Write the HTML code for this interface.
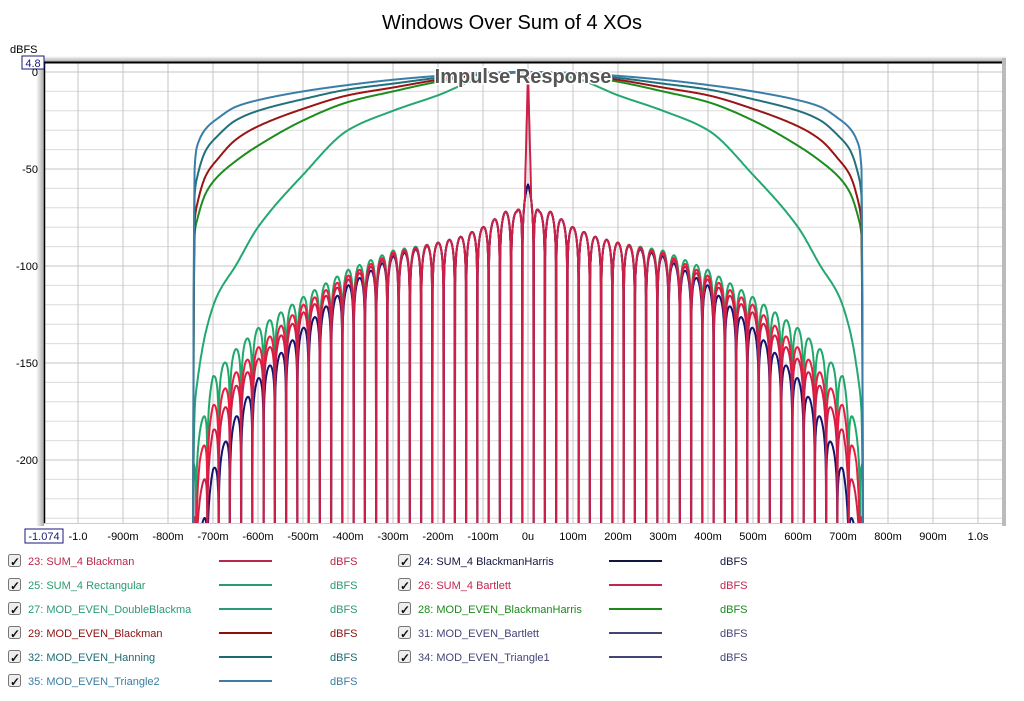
<!DOCTYPE html>
<html><head><meta charset="utf-8">
<style>
body{margin:0;background:#fff;width:1024px;height:696px;overflow:hidden;font-family:"Liberation Sans",Arial,sans-serif;}
svg text{font-family:"Liberation Sans",Arial,sans-serif;}
</style></head>
<body>
<svg id="chart" width="1024" height="696" xmlns="http://www.w3.org/2000/svg">
<defs>
<linearGradient id="shL" x1="0" x2="1"><stop offset="0" stop-color="#fff"/><stop offset="1" stop-color="#aaa"/></linearGradient>
<linearGradient id="shT" x1="0" x2="0" y1="0" y2="1"><stop offset="0" stop-color="#fff"/><stop offset="1" stop-color="#aaa"/></linearGradient>
<clipPath id="plotClip"><rect x="44" y="63" width="958" height="460"/></clipPath>
</defs>
<text x="512" y="29" text-anchor="middle" font-size="20" fill="#000">Windows Over Sum of 4 XOs</text>
<text x="10" y="53" font-size="11" fill="#000">dBFS</text>
<rect x="36" y="56" width="8" height="470" fill="url(#shL)"/>
<rect x="40" y="56" width="966" height="6" fill="url(#shT)"/>
<rect x="1002" y="58" width="4" height="468" fill="#bbb"/>
<rect x="44" y="62" width="958" height="461" fill="#fff"/>
<g id="grid"></g>
<g id="series" clip-path="url(#plotClip)"></g>
<line x1="44" y1="62.5" x2="1002" y2="62.5" stroke="#000" stroke-width="2"/>
<line x1="44.5" y1="62" x2="44.5" y2="523" stroke="#000" stroke-width="1.5"/>
<line x1="44" y1="523.5" x2="1002" y2="523.5" stroke="#ccc"/>
<text x="523" y="83" text-anchor="middle" font-size="20" font-weight="bold" fill="#555" stroke="#fff" stroke-width="3" paint-order="stroke">Impulse Response</text>
<rect x="22" y="56" width="22" height="13" fill="#fff" stroke="#1a1a7a"/>
<text x="33" y="67" text-anchor="middle" font-size="11" fill="#1a1a7a">4.8</text>
<rect x="25" y="529" width="38" height="14" fill="#fff" stroke="#1a1a7a"/>
<text x="44" y="540" text-anchor="middle" font-size="11" fill="#1a1a7a">-1.074</text>
<g id="ticks"></g>
<g id="legend"></g>
</svg>
<script>
const NS="http://www.w3.org/2000/svg";
// ---- data ----
const xTickVals=[-1000,-900,-800,-700,-600,-500,-400,-300,-200,-100,0,100,200,300,400,500,600,700,800,900,1000];
const xTickLabels=["-1.0","-900m","-800m","-700m","-600m","-500m","-400m","-300m","-200m","-100m","0u","100m","200m","300m","400m","500m","600m","700m","800m","900m","1.0s"];
const yTickVals=[0,-50,-100,-150,-200];
const yTickLabels=["0","-50","-100","-150","-200"];
// window curves (dB) at |t| (ms)
const winT=[0,100,200,300,400,500,600,650,690,715,735,741,745];
const winDoubleBlackman=[0,-3,-12,-20,-30,-53,-80,-100,-115,-133,-160,-175,-240];
const winBlackmanHarris=[0,-1.3,-5,-10,-15.5,-25,-38,-46,-54,-62,-76,-84,-240];
const winBlackman=[0,-1,-4,-8,-12,-19,-28,-35,-45,-53,-68,-78,-240];
const winHanning=[0,-0.8,-3,-6,-9,-14,-20,-25,-33,-40,-54,-64,-240];
const winTriangle2=[0,-0.5,-2,-4,-6.7,-10,-14.5,-18,-24,-29,-38,-50,-240];
// comb envelope peaks (dB) at |t| (ms)
const envT=[0,25,50,100,150,200,300,400,500,600,650,700,730,745];
const envRect=[-58,-72,-72,-80,-85,-88,-92,-102,-116,-132,-143,-157,-185,-200];
const envBartlett=[-58,-72,-72,-80,-85,-88,-93,-105,-120,-142,-155,-172,-200,-230];
const envBlackmanHarris=[-58,-72,-72,-80,-85,-88,-95,-110,-132,-158,-178,-205,-240,-240];
const envBlackman=[-58,-72,-72,-80,-85,-88,-94,-107,-124,-148,-162,-185,-220,-240];
const lobePeriod=25; const spikePeak=0; const edgeT=744;
// ---- axes ----
const X=t=>528+t*0.45;
const Y=d=>72-d*1.94;
function interp(ts,vs,t){t=Math.abs(t);if(t>=ts[ts.length-1])return vs[vs.length-1];
 for(let i=1;i<ts.length;i++){if(t<=ts[i]){const f=(t-ts[i-1])/(ts[i]-ts[i-1]);return vs[i-1]+f*(vs[i]-vs[i-1]);}}}
// monotone cubic interpolation
function mono(ts,vs,t){t=Math.abs(t);const n=ts.length;if(t>=ts[n-1])return vs[n-1];
 const d=[],m=[];for(let i=0;i<n-1;i++)d.push((vs[i+1]-vs[i])/(ts[i+1]-ts[i]));
 m[0]=0;for(let i=1;i<n-1;i++){m[i]=(d[i-1]*d[i]<=0)?0:2/(1/d[i-1]+1/d[i]);}m[n-1]=d[n-2];
 let i=0;while(t>ts[i+1])i++;const h=ts[i+1]-ts[i],s=(t-ts[i])/h;
 const h00=2*s*s*s-3*s*s+1,h10=s*s*s-2*s*s+s,h01=-2*s*s*s+3*s*s,h11=s*s*s-s*s;
 return h00*vs[i]+h10*h*m[i]+h01*vs[i+1]+h11*h*m[i+1];}
const grid=document.getElementById('grid'),ticks=document.getElementById('ticks');
for(let d=0;d>=-230;d-=10){const l=document.createElementNS(NS,'line');
 l.setAttribute('x1',44);l.setAttribute('x2',1002);l.setAttribute('y1',Y(d));l.setAttribute('y2',Y(d));
 l.setAttribute('stroke',d%50===0?'#c4c4c4':'#dcdcdc');
 
 
 grid.appendChild(l);}
xTickVals.forEach((v,i)=>{const l=document.createElementNS(NS,'line');
 l.setAttribute('x1',X(v));l.setAttribute('x2',X(v));l.setAttribute('y1',62);l.setAttribute('y2',523);l.setAttribute('stroke','#c4c4c4');
 
 
 grid.appendChild(l);
 const t=document.createElementNS(NS,'text');t.setAttribute('x',X(v));t.setAttribute('y',540);t.setAttribute('text-anchor','middle');t.setAttribute('font-size','11');t.textContent=xTickLabels[i];
 
 
 ticks.appendChild(t);});
yTickVals.forEach((v,i)=>{const t=document.createElementNS(NS,'text');t.setAttribute('x',38);t.setAttribute('y',Y(v)+4);t.setAttribute('text-anchor','end');t.setAttribute('font-size','11');t.textContent=yTickLabels[i];
 
 
 ticks.appendChild(t);});
// ---- series ----
const series=document.getElementById('series');
function addPath(pts,color,w,name){const p=document.createElementNS(NS,'path');
 p.setAttribute('d','M'+pts.map(q=>q[0].toFixed(1)+','+q[1].toFixed(1)).join('L'));
 p.setAttribute('fill','none');p.setAttribute('stroke',color);p.setAttribute('stroke-width',w);p.setAttribute('stroke-linejoin','round');
 
 
 series.appendChild(p);}
function comb(env,color,name,spike){const pts=[];
 for(let t=-edgeT;t<=edgeT;t+=0.5){let v=interp(envT,env,t)+20*Math.log10(Math.abs(Math.cos(Math.PI*t/lobePeriod))+1e-12);
  if(spike&&Math.abs(t)<7)v=Math.max(v,spikePeak-Math.abs(t)*9);
  v=Math.max(v,-240);pts.push([X(t),Y(v)]);}
 addPath(pts,color,2,name);}
function win(vals,color,name){const pts=[[X(-edgeT),Y(-240)]];
 for(let t=-743;t<=743;t+=1){pts.push([X(t),Y(mono(winT,vals,t))]);}
 pts.push([X(edgeT),Y(-240)]);addPath(pts,color,2,name);}
comb(envRect,'#1fa86a','sum4-rectangular-line');
comb(envBartlett,'#ee1c3e','sum4-bartlett-line');
comb(envBlackmanHarris,'#14146e','sum4-blackmanharris-line');
comb(envBlackman,'#cc2048','sum4-blackman-line',true);
win(winDoubleBlackman,'#22a870','mod-even-doubleblackman-line');
win(winBlackmanHarris,'#1c8c1c','mod-even-blackmanharris-line');
win(winBlackman,'#9a1414','mod-even-blackman-line');
win(winHanning,'#22707c','mod-even-hanning-line');
win(winTriangle2,'#3a7ea8','mod-even-triangle2-line');
// ---- legend ----
const legNames=["23: SUM_4 Blackman","24: SUM_4 BlackmanHarris","25: SUM_4 Rectangular","26: SUM_4 Bartlett","27: MOD_EVEN_DoubleBlackma","28: MOD_EVEN_BlackmanHarris","29: MOD_EVEN_Blackman","31: MOD_EVEN_Bartlett","32: MOD_EVEN_Hanning","34: MOD_EVEN_Triangle1","35: MOD_EVEN_Triangle2"];
const legColors=["#b82848","#141440","#2a9a70","#c02850","#2a9a7a","#1a8a1a","#8a1010","#444478","#1e6a74","#444478","#3a7ea0"];
const legend=document.getElementById('legend');
legNames.forEach((n,i)=>{const col=i%2,row=Math.floor(i/2);const x0=col?398:8,y0=561+row*24;
 const g=document.createElementNS(NS,'g');
 
 
 g.innerHTML=`<rect x="${x0+0.5}" y="${y0-6.5}" width="12" height="12" rx="2" fill="#eee" stroke="#777"/>`+
 `<text x="${x0+2}" y="${y0+5}" font-size="12" font-weight="bold" fill="#111">✓</text>`+
 `<text x="${x0+20}" y="${y0+4}" font-size="11" fill="${legColors[i]}">${n}</text>`+
 `<line x1="${x0+211}" x2="${x0+264}" y1="${y0}" y2="${y0}" stroke="${legColors[i]}" stroke-width="2"/>`+
 `<text x="${x0+322}" y="${y0+4}" font-size="11" fill="${legColors[i]}">dBFS</text>`;
 legend.appendChild(g);});
</script>
</body></html>
